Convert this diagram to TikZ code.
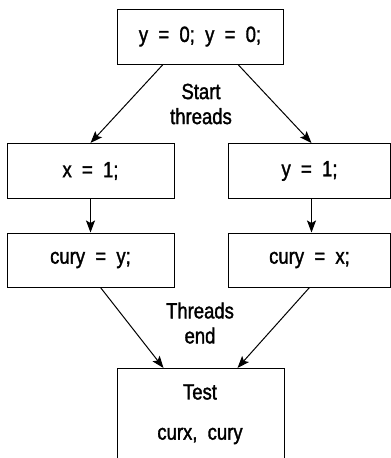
\documentclass[tikz,border=0pt]{standalone}
\usepackage{fontspec}
\setmainfont{Liberation Sans}[FakeStretch=0.84, FakeBold=1.5]
\usetikzlibrary{arrows.meta}
\begin{document}
\begin{tikzpicture}[x=1pt, y=-1pt, line width=1pt,
    every node/.style = {font=\fontsize{22}{25}\selectfont, inner sep=0pt},
    box/.style = {shape=rectangle, draw, minimum width=166pt, minimum height=55pt},
    lbl/.style = {align=center},
    >={Stealth[length=12pt, width=9pt, inset=2.5pt]}]
    \useasboundingbox (0,0) rectangle (391,458);
    % start
    \node[box] (init) at (200,36.5) {y\ \ =\ \ 0;\ \ y\ \ =\ \ 0;};
    \node[lbl] (start) at (201,104) {Start\\threads};
    % thread one
    \node[box, minimum width=167pt] (setx) at (90.5,171) {x\ \ =\ \ 1;};
    \node[box, minimum width=167pt, minimum height=54pt] (ready) at (90.5,260) {cury\ \ =\ \ y;};
    % thread two
    \node[box, minimum width=162pt] (sety) at (309.5,171) {y\ \ =\ \ 1;};
    \node[box, minimum width=162pt, minimum height=54pt] (readx) at (309.5,260) {cury\ \ =\ \ x;};
    % end
    \node[lbl] (finish) at (200,323) {Threads\\end};
    \node[box, minimum width=167pt, minimum height=120pt, anchor=north] (test) at (200.5,368) {};
    \node (testname) at (200,392) {Test};
    \node (testvars) at (200,436) {curx,\ \ cury};
    % arrows
    \draw[->] ([xshift=-37pt]init.south) -- (setx.north);
    \draw[->] ([xshift=38pt]init.south) -- ([xshift=2pt]sety.north);
    \draw[->] (setx) -- (ready);
    \draw[->] ([xshift=2pt]sety.south) -- ([xshift=2pt]readx.north);
    \draw[->] ([xshift=10pt]ready.south) -- ([xshift=-37pt]test.north);
    \draw[->] ([xshift=0pt]readx.south) -- ([xshift=37pt]test.north);
\end{tikzpicture}
\end{document}
